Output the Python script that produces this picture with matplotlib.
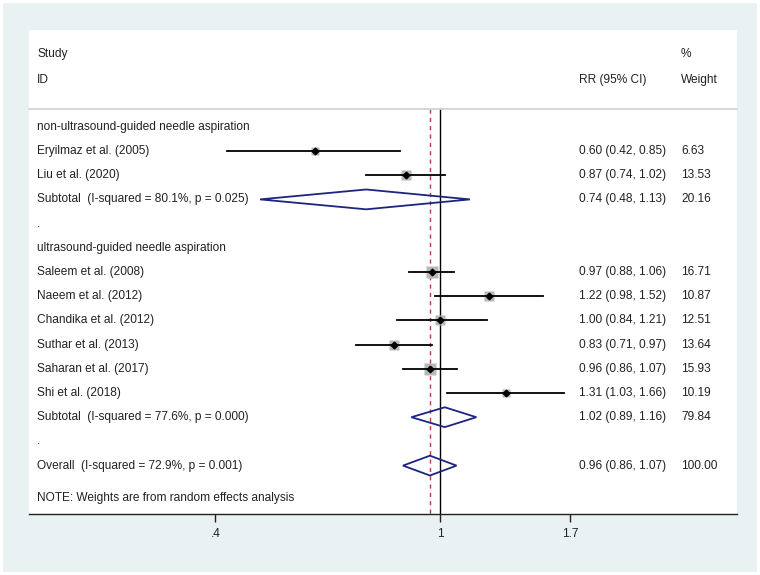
import numpy as np
import matplotlib.pyplot as plt
from matplotlib.patches import Polygon, Rectangle

plt.rcParams['font.family'] = ['Liberation Sans', 'DejaVu Sans']

# study level data
grp1_names = ["Eryilmaz et al. (2005)", "Liu et al. (2020)"]
grp1_rr = [0.60, 0.87]
grp1_lo = [0.42, 0.74]
grp1_hi = [0.85, 1.02]
grp1_wt = [6.63, 13.53]

grp2_names = ["Saleem et al. (2008)", "Naeem et al. (2012)", "Chandika et al. (2012)",
              "Suthar et al. (2013)", "Saharan et al. (2017)", "Shi et al. (2018)"]
grp2_rr = [0.97, 1.22, 1.00, 0.83, 0.96, 1.31]
grp2_lo = [0.88, 0.98, 0.84, 0.71, 0.86, 1.03]
grp2_hi = [1.06, 1.52, 1.21, 0.97, 1.07, 1.66]
grp2_wt = [16.71, 10.87, 12.51, 13.64, 15.93, 10.19]

# pooled estimates: subtotal 1, subtotal 2, overall
pooled_labels = ["Subtotal  (I-squared = 80.1%, p = 0.025)",
                 "Subtotal  (I-squared = 77.6%, p = 0.000)",
                 "Overall  (I-squared = 72.9%, p = 0.001)"]
pooled_rr = [0.74, 1.02, 0.96]
pooled_lo = [0.48, 0.89, 0.86]
pooled_hi = [1.13, 1.16, 1.07]
pooled_wt = [20.16, 79.84, 100.00]

group_titles = ["non-ultrasound-guided needle aspiration", "ultrasound-guided needle aspiration"]

xticks = [0.4, 1, 1.7]
xtick_labels = [".4", "1", "1.7"]

navy = "#1c2580"
fs = 8.6

fig = plt.figure(figsize=(7.6, 5.75), dpi=100)
fig.patch.set_facecolor("white")
fig.patches.append(Rectangle((3 / 760, 3 / 575), 754 / 760, 569 / 575, transform=fig.transFigure,
                             facecolor="#eaf1f3", edgecolor="none", zorder=-1))

ax = fig.add_axes([29 / 760, 1 - 514 / 575, 708 / 760, 484 / 575])
ax.set_facecolor("white")
ax.set_xscale("log")
ax.set_xlim(0.187, 3.36)
ax.set_ylim(-16.0, 4.0)

tr = ax.get_yaxis_transform()  # x in axes fraction, y in data
x_lab, x_rr, x_wt = 8 / 708, 550 / 708, 652 / 708

def txt(x, y, s):
    ax.text(x, y, s, transform=tr, fontsize=fs, va="center", ha="left", color="#222222")

def fmt(r, l, h):
    return f"{r:.2f} ({l:.2f}, {h:.2f})"

# header
txt(x_lab, 3.0, "Study")
txt(x_lab, 1.94, "ID")
txt(x_rr, 1.94, "RR (95% CI)")
txt(x_wt, 3.0, "%")
txt(x_wt, 1.94, "Weight")
ax.plot([0, 1], [0.74, 0.74], transform=tr, color="#cfcfcf", lw=1.2, clip_on=False)

# reference lines
ax.plot([1, 1], [0.74, -16.0], color="black", lw=1.0, zorder=1)
ax.plot([pooled_rr[2]] * 2, [0.74, -16.0], color="#a8414a", lw=1.0, ls=(0, (3, 3)), zorder=1)

def draw_study(y, name, r, l, h, w):
    txt(x_lab, y, name)
    txt(x_rr, y, fmt(r, l, h))
    txt(x_wt, y, f"{w:.2f}")
    ax.plot([l, h], [y, y], color="black", lw=1.3, zorder=3)
    ax.plot(r, y, marker="s", ms=2.0 * np.sqrt(w), color="#b8b8b8", mec="none", zorder=2)
    ax.plot(r, y, marker="D", ms=3.4, color="black", zorder=4)

def draw_pooled(y, label, r, l, h, w):
    txt(x_lab, y, label)
    txt(x_rr, y, fmt(r, l, h))
    txt(x_wt, y, f"{w:.2f}")
    hh = 0.41
    ax.add_patch(Polygon([[l, y], [r, y + hh], [h, y], [r, y - hh]], closed=True,
                         facecolor="none", edgecolor=navy, lw=1.3, zorder=3))

y = 0
txt(x_lab, -y, group_titles[0])
y += 1
for i in range(len(grp1_names)):
    draw_study(-y, grp1_names[i], grp1_rr[i], grp1_lo[i], grp1_hi[i], grp1_wt[i])
    y += 1
draw_pooled(-y, pooled_labels[0], pooled_rr[0], pooled_lo[0], pooled_hi[0], pooled_wt[0])
y += 1
txt(x_lab, -y, ".")
y += 1
txt(x_lab, -y, group_titles[1])
y += 1
for i in range(len(grp2_names)):
    draw_study(-y, grp2_names[i], grp2_rr[i], grp2_lo[i], grp2_hi[i], grp2_wt[i])
    y += 1
draw_pooled(-y, pooled_labels[1], pooled_rr[1], pooled_lo[1], pooled_hi[1], pooled_wt[1])
y += 1
txt(x_lab, -y, ".")
y += 1
draw_pooled(-y, pooled_labels[2], pooled_rr[2], pooled_lo[2], pooled_hi[2], pooled_wt[2])

txt(x_lab, -15.33, "NOTE: Weights are from random effects analysis")

# axes styling
for s in ["top", "left", "right"]:
    ax.spines[s].set_visible(False)
ax.spines["bottom"].set_color("#222222")
ax.spines["bottom"].set_linewidth(1.0)
ax.set_yticks([])
ax.xaxis.set_minor_locator(plt.NullLocator())
ax.set_xticks(xticks)
ax.set_xticklabels(xtick_labels, fontsize=fs, color="#222222")
ax.tick_params(axis="x", length=6, width=1.0, color="#222222", pad=4)

fig.savefig("out.png", dpi=100, facecolor=fig.get_facecolor())
